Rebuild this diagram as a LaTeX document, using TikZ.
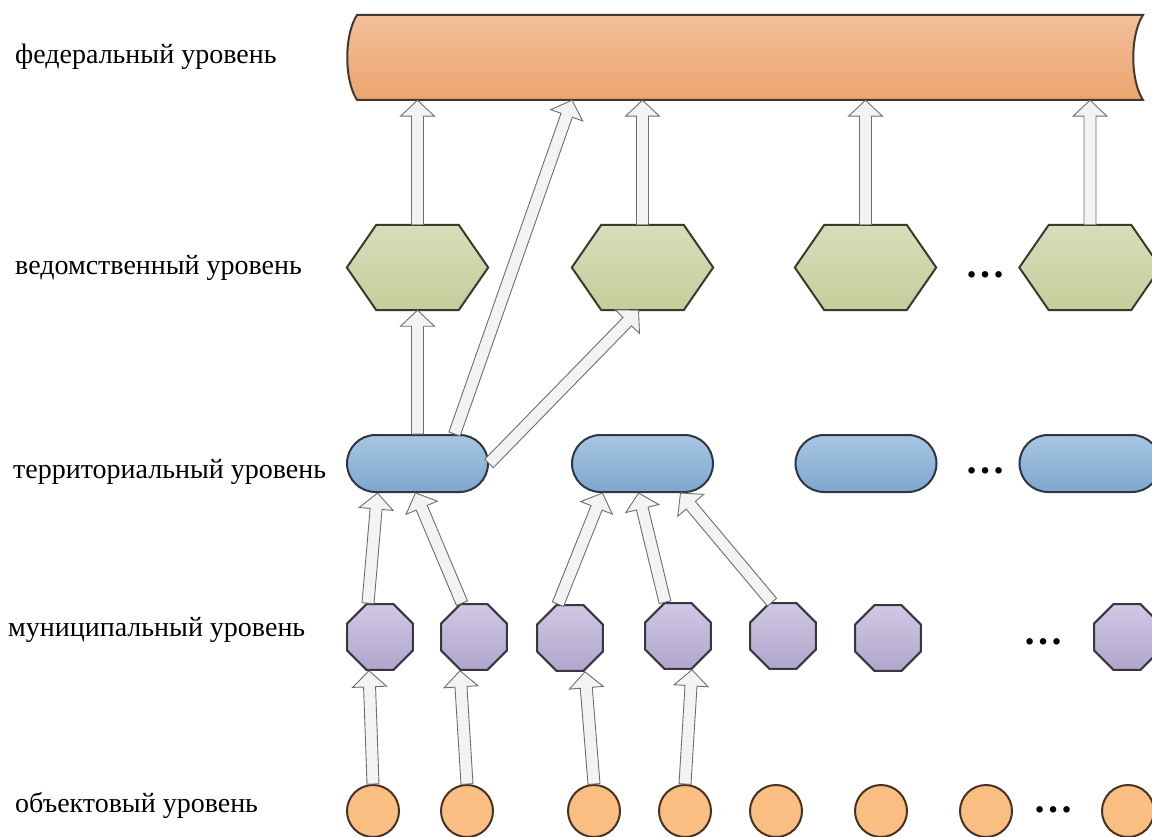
\documentclass[tikz,border=0pt]{standalone}
\usepackage{fontspec}
\setmainfont{Liberation Serif}
\usetikzlibrary{shapes.geometric,shapes.misc,calc}
\definecolor{fedtop}{RGB}{241,192,154}
\definecolor{fedbot}{RGB}{236,164,110}
\definecolor{fedline}{RGB}{70,55,45}
\definecolor{hextop}{RGB}{214,222,186}
\definecolor{hexbot}{RGB}{195,206,155}
\definecolor{hexline}{RGB}{55,60,45}
\definecolor{tertop}{RGB}{168,198,226}
\definecolor{terbot}{RGB}{125,167,208}
\definecolor{terline}{RGB}{45,55,65}
\definecolor{muntop}{RGB}{208,200,228}
\definecolor{munbot}{RGB}{176,166,204}
\definecolor{munline}{RGB}{55,55,65}
\definecolor{objfill}{RGB}{251,190,130}
\definecolor{objline}{RGB}{70,50,35}
\definecolor{arrfill}{RGB}{243,243,243}
\definecolor{arrline}{RGB}{110,110,110}
\newcommand\blockarrow[2]{%
  \path[arrsty] ($(#1)!6pt!90:(#2)$) -- ($(#2)!17.09pt!-20.56:(#1)$)
    -- ($(#2)!23.35pt!-46.74:(#1)$) -- (#2) -- ($(#2)!23.35pt!46.74:(#1)$)
    -- ($(#2)!17.09pt!20.56:(#1)$) -- ($(#1)!6pt!-90:(#2)$) -- cycle;}
\begin{document}
\begin{tikzpicture}[x=1pt,y=-1pt,
  lbl/.style={anchor=west, inner sep=0pt, font=\fontsize{28}{30}\selectfont},
  dotsty/.style={anchor=base, inner sep=0pt, font=\fontsize{40}{40}\selectfont\bfseries},
  fedbox/.style={rectangle, minimum width=796pt, minimum height=85pt, inner sep=0pt},
  fedsty/.style={draw=fedline, line width=2pt, top color=fedtop, bottom color=fedbot},
  hexbox/.style={rectangle, minimum width=141pt, minimum height=85pt, inner sep=0pt},
  hexsty/.style={draw=hexline, line width=2pt, top color=hextop, bottom color=hexbot, line join=miter},
  terr/.style={rounded rectangle, minimum width=141pt, minimum height=57pt, inner sep=0pt,
    draw=terline, line width=2pt, top color=tertop, bottom color=terbot},
  muni/.style={regular polygon, regular polygon sides=8, minimum size=71pt, inner sep=0pt,
    draw=munline, line width=2pt, top color=muntop, bottom color=munbot},
  obj/.style={circle, minimum size=52pt, inner sep=0pt, draw=objline, line width=2pt, fill=objfill},
  arrsty/.style={draw=arrline, fill=arrfill, line width=0.9pt, line join=miter}]
\useasboundingbox (0,0) rectangle (1152,837);
\clip (0,0) rectangle (1152,837);
\fill[white] (0,0) rectangle (1152,837);

% labels
\node[lbl] (l1) at (15,57) {федеральный уровень};
\node[lbl] (l2) at (15,268) {ведомственный уровень};
\node[lbl] (l3) at (13,472) {территориальный уровень};
\node[lbl] (l4) at (8,630) {муниципальный уровень};
\node[lbl] (l5) at (15,805) {объектовый уровень};

% federal level (horizontal tube)
\node[fedbox] (fed) at (745,57.5) {};
\path[fedsty] (357,15) -- (1143,15) .. controls (1130,35) and (1130,80) .. (1143,100)
  -- (357,100) .. controls (344,80) and (344,35) .. (357,15) -- cycle;

% departmental level
\node[hexbox] (hex1) at (417.5,267.5) {};
\node[hexbox] (hex2) at (642.5,267.5) {};
\node[hexbox] (hex3) at (865.5,267.5) {};
\node[hexbox] (hex4) at (1090,267.5) {};
\foreach \h in {hex1,hex2,hex3,hex4}{
  \path[hexsty] (\h.west) -- ($(\h.north west)+(29.5,0)$) -- ($(\h.north east)+(-29.5,0)$)
    -- (\h.east) -- ($(\h.south east)+(-29.5,0)$) -- ($(\h.south west)+(29.5,0)$) -- cycle;
}
\node[dotsty] (d1) at (985,278) {…};

% territorial level
\node[terr] (st1) at (417.5,463.5) {};
\node[terr] (st2) at (642.5,463.5) {};
\node[terr] (st3) at (866,463.5) {};
\node[terr] (st4) at (1090,463.5) {};
\node[dotsty] (d2) at (985,473) {…};

% municipal level
\node[muni] (oct1) at (380,637) {};
\node[muni] (oct2) at (474,637) {};
\node[muni] (oct3) at (570,638) {};
\node[muni] (oct4) at (678,636) {};
\node[muni] (oct5) at (783,636) {};
\node[muni] (oct6) at (888,638) {};
\node[muni] (oct7) at (1127,637) {};
\node[dotsty] (d3) at (1043,644) {…};

% object level
\node[obj] (c1) at (373,811) {};
\node[obj] (c2) at (467,811) {};
\node[obj] (c3) at (594,811) {};
\node[obj] (c4) at (685,811) {};
\node[obj] (c5) at (776,811) {};
\node[obj] (c6) at (881,811) {};
\node[obj] (c7) at (986,811) {};
\node[obj] (c8) at (1128,811) {};
\node[dotsty] (d4) at (1053,812) {…};

% arrow end points
\coordinate (f1) at (hex1.north |- fed.south);
\coordinate (f2) at ($(fed.south)+(-173,0)$);
\coordinate (f3) at (hex2.north |- fed.south);
\coordinate (f4) at (hex3.north |- fed.south);
\coordinate (f5) at (hex4.north |- fed.south);
\coordinate (s1d) at ($(st1.north)+(37,0)$);
\coordinate (h2b) at ($(hex2.south)+(-4,0)$);
\coordinate (m1t) at ($(oct1.north)+(-12,0)$);
\coordinate (m2t) at ($(oct2.north)+(-12,0)$);
\coordinate (m3t) at ($(oct3.north)+(-12,0)$);
\coordinate (m4t) at ($(oct4.north)+(-13,0)$);
\coordinate (m5t) at ($(oct5.north)+(-11,0)$);
\coordinate (t1a) at ($(st1.south)+(-40,0)$);
\coordinate (t1b) at ($(st1.south)+(-2,0)$);
\coordinate (t2a) at ($(st2.south)+(-40,0)$);
\coordinate (t2b) at ($(st2.south)+(-4,0)$);
\coordinate (t2c) at ($(st2.south)+(38,0)$);
\coordinate (m1b) at ($(oct1.south)+(-11,0)$);
\coordinate (m2b) at ($(oct2.south)+(-14,0)$);
\coordinate (m3b) at ($(oct3.south)+(15,0)$);
\coordinate (m4b) at ($(oct4.south)+(14,0)$);

% arrows
\blockarrow{hex1.north}{f1}
\blockarrow{s1d}{f2}
\blockarrow{hex2.north}{f3}
\blockarrow{hex3.north}{f4}
\blockarrow{hex4.north}{f5}
\blockarrow{st1.north}{hex1.south}
\blockarrow{st1.east}{h2b}
\blockarrow{m1t}{t1a}
\blockarrow{m2t}{t1b}
\blockarrow{m3t}{t2a}
\blockarrow{m4t}{t2b}
\blockarrow{m5t}{t2c}
\blockarrow{c1.north}{m1b}
\blockarrow{c2.north}{m2b}
\blockarrow{c3.north}{m3b}
\blockarrow{c4.north}{m4b}
\end{tikzpicture}
\end{document}
